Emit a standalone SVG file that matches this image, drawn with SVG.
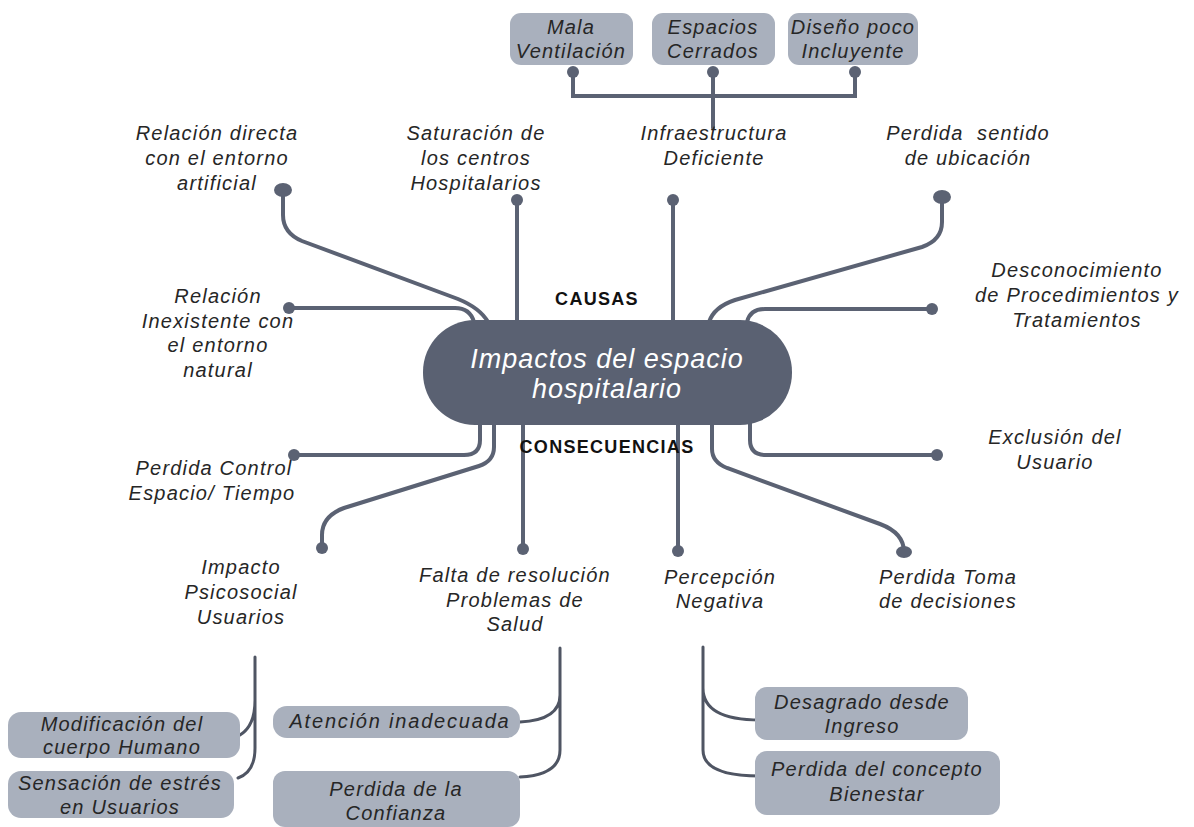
<svg xmlns="http://www.w3.org/2000/svg" width="1194" height="827" viewBox="0 0 1194 827">
<defs>
<filter id="blur" x="-20%" y="-300%" width="140%" height="700%"><feGaussianBlur stdDeviation="3"/></filter>
<style>
.lbl{font-family:"Liberation Sans",Arial,sans-serif;font-style:italic;font-size:20px;letter-spacing:1.2px;fill:#262626;text-anchor:middle}
.hdr{font-family:"Liberation Sans",Arial,sans-serif;font-weight:bold;font-size:18px;letter-spacing:1.3px;fill:#111;text-anchor:middle}
.ctr{font-family:"Liberation Sans",Arial,sans-serif;font-style:italic;font-size:27px;letter-spacing:1px;fill:#fff;text-anchor:middle}
.box{fill:#a9b0bd}
.ln{fill:none;stroke:#5b6273;stroke-width:4;stroke-linecap:round}
.br{fill:none;stroke:#4f5563;stroke-width:3;stroke-linecap:round}
.dot{fill:#5b6273}
.sh{stroke:#d4d4d4;stroke-width:5;opacity:0.75;filter:url(#blur)}
</style>
</defs>
<rect width="1194" height="827" fill="#fff"/>
<g id="shadows">
<line class="sh" x1="135" y1="108" x2="300" y2="108"/>
<line class="sh" x1="440" y1="108" x2="600" y2="108"/>
<line class="sh" x1="130" y1="205" x2="300" y2="205"/>
<line class="sh" x1="440" y1="205" x2="600" y2="205"/>
<line class="sh" x1="640" y1="205" x2="780" y2="205"/>
<line class="sh" x1="880" y1="205" x2="1060" y2="205"/>
<line class="sh" x1="110" y1="272" x2="280" y2="272"/>
<line class="sh" x1="990" y1="255" x2="1170" y2="255"/>
<line class="sh" x1="990" y1="358" x2="1170" y2="358"/>
<line class="sh" x1="990" y1="412" x2="1170" y2="412"/>
<line class="sh" x1="110" y1="433" x2="290" y2="433"/>
<line class="sh" x1="1000" y1="492" x2="1160" y2="492"/>
<line class="sh" x1="120" y1="525" x2="210" y2="525"/>
<line class="sh" x1="170" y1="548" x2="300" y2="548"/>
<line class="sh" x1="440" y1="548" x2="600" y2="548"/>
<line class="sh" x1="680" y1="548" x2="770" y2="548"/>
<line class="sh" x1="840" y1="548" x2="1000" y2="548"/>
<line class="sh" x1="170" y1="640" x2="300" y2="640"/>
<line class="sh" x1="440" y1="640" x2="600" y2="640"/>
<line class="sh" x1="680" y1="640" x2="770" y2="640"/>
<line class="sh" x1="840" y1="640" x2="990" y2="640"/>
</g>
<g id="connectors">
<path class="ln" d="M573,72 V96 H855 V72 M713,72 V128"/>
<path class="ln" d="M283,190 V215 Q283,233 302,241 L458,299 Q480,308 488,322"/>
<path class="ln" d="M517,200 V322"/>
<path class="ln" d="M673,200 V322"/>
<path class="ln" d="M942,197 V222 Q942,240 922,247 L735,300 Q714,307 709,322"/>
<path class="ln" d="M289,308 H455 Q470,308 474,322"/>
<path class="ln" d="M932,309 H765 Q750,309 747,322"/>
<path class="ln" d="M480,423 V440 Q480,455 464,455 H294"/>
<path class="ln" d="M494,423 V447 Q494,461 479,466 L344,508 Q322,516 322,535 V548"/>
<path class="ln" d="M523,423 V549"/>
<path class="ln" d="M678,423 V551"/>
<path class="ln" d="M712,423 V449 Q712,462 727,468 L880,524 Q904,533 904,552"/>
<path class="ln" d="M750,423 V440 Q750,455 766,455 H937"/>
<circle class="dot" cx="573" cy="72" r="6"/>
<circle class="dot" cx="713" cy="72" r="6"/>
<circle class="dot" cx="855" cy="72" r="6"/>
<ellipse class="dot" cx="283" cy="190" rx="9" ry="7"/>
<circle class="dot" cx="517" cy="200" r="6"/>
<circle class="dot" cx="673" cy="200" r="6"/>
<ellipse class="dot" cx="942" cy="197" rx="9" ry="7"/>
<circle class="dot" cx="289" cy="308" r="6"/>
<circle class="dot" cx="932" cy="309" r="6"/>
<circle class="dot" cx="294" cy="455" r="6"/>
<circle class="dot" cx="937" cy="455" r="6"/>
<circle class="dot" cx="322" cy="548" r="6"/>
<circle class="dot" cx="523" cy="549" r="6"/>
<circle class="dot" cx="678" cy="551" r="6"/>
<ellipse class="dot" cx="904" cy="552" rx="8" ry="6"/>
<path class="br" d="M255,657 V748 Q255,772 238,778 M255,700 Q255,726 240,735"/>
<path class="br" d="M560,648 V750 Q560,775 520,777 M560,695 Q560,720 520,722"/>
<path class="br" d="M703,647 V750 Q703,776 760,776 M703,688 Q703,720 760,720"/>
</g>
<g id="center">
<rect x="423" y="320" width="369" height="105" rx="52" fill="#5a6172"/>
<text class="ctr" x="607" y="368">Impactos del espacio</text>
<text class="ctr" x="607" y="398">hospitalario</text>
</g>
<g id="causas"><text class="hdr" x="597" y="305">CAUSAS</text></g>
<g id="consecuencias"><text class="hdr" x="607" y="453">CONSECUENCIAS</text></g>
<g id="mala-ventilacion">
<rect class="box" x="510" y="13" width="123" height="52" rx="11"/>
<text class="lbl" x="571" y="34">Mala</text>
<text class="lbl" x="571" y="58">Ventilación</text>
</g>
<g id="espacios-cerrados">
<rect class="box" x="652" y="13" width="123" height="52" rx="11"/>
<text class="lbl" x="713" y="34">Espacios</text>
<text class="lbl" x="713" y="58">Cerrados</text>
</g>
<g id="diseno-poco-incluyente">
<rect class="box" x="788" y="13" width="130" height="52" rx="11"/>
<text class="lbl" x="853" y="34">Diseño poco</text>
<text class="lbl" x="853" y="58">Incluyente</text>
</g>
<g id="relacion-directa">
<text class="lbl" x="217" y="140">Relación directa</text>
<text class="lbl" x="217" y="165">con el entorno</text>
<text class="lbl" x="217" y="190">artificial</text>
</g>
<g id="saturacion">
<text class="lbl" x="476" y="140">Saturación de</text>
<text class="lbl" x="476" y="165">los centros</text>
<text class="lbl" x="476" y="190">Hospitalarios</text>
</g>
<g id="infraestructura">
<text class="lbl" x="714" y="140">Infraestructura</text>
<text class="lbl" x="714" y="165">Deficiente</text>
</g>
<g id="perdida-sentido">
<text class="lbl" x="968" y="140" xml:space="preserve">Perdida  sentido</text>
<text class="lbl" x="968" y="165">de ubicación</text>
</g>
<g id="desconocimiento">
<text class="lbl" x="1077" y="277">Desconocimiento</text>
<text class="lbl" x="1077" y="302">de Procedimientos y</text>
<text class="lbl" x="1077" y="327">Tratamientos</text>
</g>
<g id="relacion-inexistente">
<text class="lbl" x="218" y="303">Relación</text>
<text class="lbl" x="218" y="328">Inexistente con</text>
<text class="lbl" x="218" y="352">el entorno</text>
<text class="lbl" x="218" y="377">natural</text>
</g>
<g id="exclusion">
<text class="lbl" x="1055" y="444">Exclusión del</text>
<text class="lbl" x="1055" y="469">Usuario</text>
</g>
<g id="perdida-control">
<text class="lbl" x="214" y="475">Perdida Control</text>
<text class="lbl" x="212" y="500">Espacio/ Tiempo</text>
</g>
<g id="impacto-psicosocial">
<text class="lbl" x="241" y="574">Impacto</text>
<text class="lbl" x="241" y="599">Psicosocial</text>
<text class="lbl" x="241" y="624">Usuarios</text>
</g>
<g id="falta-resolucion">
<text class="lbl" x="515" y="582">Falta de resolución</text>
<text class="lbl" x="515" y="607">Problemas de</text>
<text class="lbl" x="515" y="631">Salud</text>
</g>
<g id="percepcion-negativa">
<text class="lbl" x="720" y="584">Percepción</text>
<text class="lbl" x="720" y="608">Negativa</text>
</g>
<g id="perdida-toma">
<text class="lbl" x="948" y="584">Perdida Toma</text>
<text class="lbl" x="948" y="608">de decisiones</text>
</g>
<g id="modificacion">
<rect class="box" x="8" y="712" width="232" height="46" rx="13"/>
<text class="lbl" x="122" y="731">Modificación del</text>
<text class="lbl" x="122" y="754">cuerpo Humano</text>
</g>
<g id="sensacion">
<rect class="box" x="8" y="771" width="226" height="47" rx="13"/>
<text class="lbl" x="120" y="790">Sensación de estrés</text>
<text class="lbl" x="120" y="814">en Usuarios</text>
</g>
<g id="atencion">
<rect class="box" x="273" y="706" width="247" height="32" rx="14"/>
<text class="lbl" x="400" y="728" style="letter-spacing:1.8px">Atención inadecuada</text>
</g>
<g id="perdida-confianza">
<rect class="box" x="273" y="771" width="247" height="56" rx="12"/>
<text class="lbl" x="396" y="796">Perdida de la</text>
<text class="lbl" x="396" y="820">Confianza</text>
</g>
<g id="desagrado">
<rect class="box" x="755" y="687" width="213" height="53" rx="12"/>
<text class="lbl" x="862" y="709">Desagrado desde</text>
<text class="lbl" x="862" y="733">Ingreso</text>
</g>
<g id="perdida-concepto">
<rect class="box" x="755" y="751" width="245" height="64" rx="12"/>
<text class="lbl" x="877" y="776">Perdida del concepto</text>
<text class="lbl" x="877" y="801">Bienestar</text>
</g>
</svg>
